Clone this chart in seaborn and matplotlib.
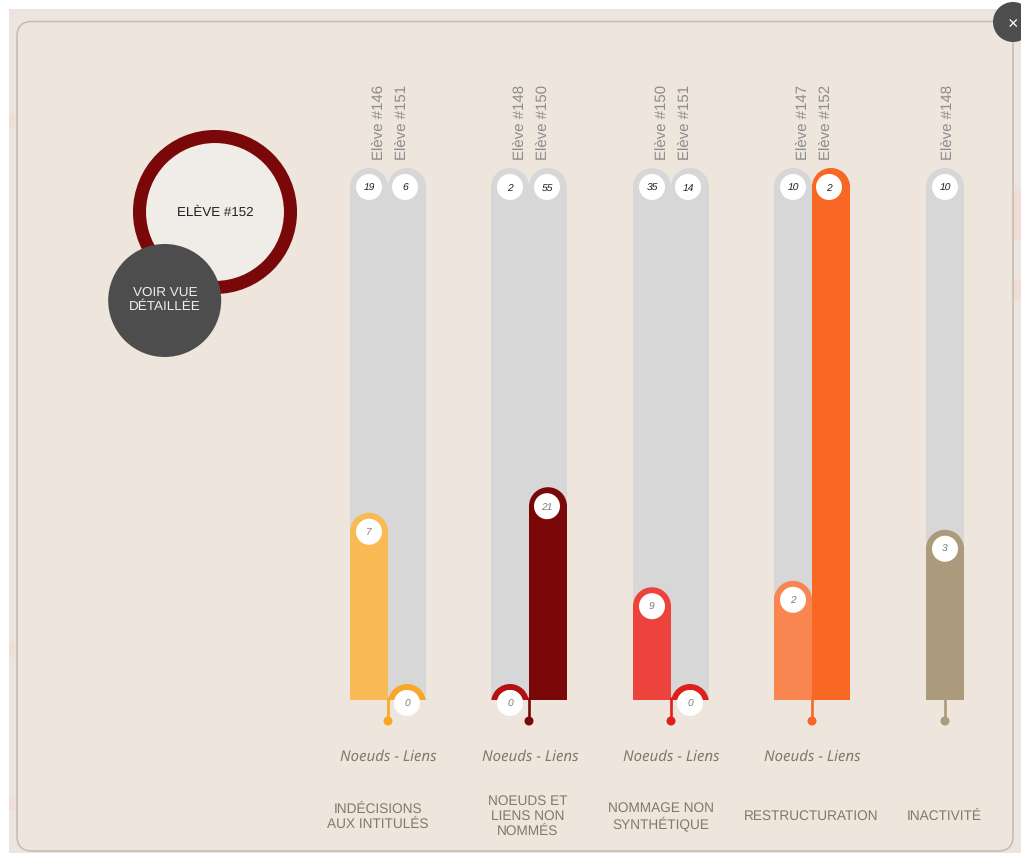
import numpy as np
import pandas as pd
import matplotlib
matplotlib.use('Agg')
import matplotlib.pyplot as plt
from matplotlib.patches import Circle, Ellipse, FancyBboxPatch, Rectangle, Wedge
import seaborn as sns

# values
students = ['Elève #146', 'Elève #151', 'Elève #148', 'Elève #150', 'Elève #150',
            'Elève #151', 'Elève #147', 'Elève #152', 'Elève #148']
totals = [19, 6, 2, 55, 35, 14, 10, 2, 10]
counts = [7, 0, 0, 21, 9, 0, 2, 2, 3]
fill_share = [0.352, 0, 0, 0.400, 0.212, 0, 0.224, 1.0, 0.320]
groups = ['INDÉCISIONS\nAUX INTITULÉS', 'NOEUDS ET\nLIENS NON\nNOMMÉS', 'NOMMAGE NON\nSYNTHÉTIQUE',
          'RESTRUCTURATION', 'INACTIVITÉ']

# layout in pixels
W, H = 1021, 854
BASE_Y, TOP_Y = 700, 168
BAR_W = 38
bar_x = [369, 407, 510, 548, 652, 690, 793, 831, 945]
bubble_x = [369, 405, 510, 547, 652, 688, 793, 829, 945]
label_x = [379, 402, 520, 543, 662, 685, 803, 826, 948]
stem_x = [388, 529, 671, 812, 945]
group_x = [378, 528, 661, 811, 944]
axis_x = [388.5, 530, 671, 812]

# colours
BG = '#EEE5DD'
GREY = '#D7D7D7'
fill_colors = ['#F9BA55', '#F9A825', '#B50F0F', '#7A0808', '#EC443C', '#DF1F1A', '#F98650', '#F96724', '#AB9A7C']
stem_colors = ['#F9A825', '#7A0808', '#DF1F1A', '#F96724', '#AB9A7C']
TXT = '#857868'

sns.set_theme(style='white')
plt.rcParams['font.family'] = ['Liberation Sans', 'DejaVu Sans']
plt.rcParams['text.hinting'] = 'no_hinting'

fig = plt.figure(figsize=(W / 100, H / 100), dpi=100, facecolor='white')


def pixel_axes(zorder):
    a = fig.add_axes([0, 0, 1, 1], zorder=zorder)
    a.set_xlim(0, W)
    a.set_ylim(H - 1, -1)
    a.set_axis_off()
    a.patch.set_alpha(0)
    return a


# page behind the panel
page = pixel_axes(0)
page.add_patch(Rectangle((9, 9), W - 9, H - 9, fc='#EDE4DF', ec='none'))
for y0, y1 in [(115, 128), (643, 657), (797, 810)]:
    page.add_patch(Rectangle((9, y0), 8, y1 - y0, fc='#EFDDD6', ec='none'))
for y0, y1 in [(190, 240), (280, 300)]:
    page.add_patch(Rectangle((1013, y0), 8, y1 - y0, fc='#EFDDD6', ec='none'))
page.add_patch(FancyBboxPatch((17, 21.5), 996, 829.5, boxstyle='round,pad=0,rounding_size=15',
                              fc=BG, ec='#C2BBB3', lw=1.1))

# bars, share of the column height on y
ax = fig.add_axes([0, (H - BASE_Y - 1) / H, 1, (BASE_Y - TOP_Y) / H], zorder=1)
ax.patch.set_alpha(0)
cap = (BAR_W / 2) / (BASE_Y - TOP_Y)


def round_tops(ax, start):
    for p in list(ax.patches)[start:]:
        h = p.get_height()
        if h <= 0:
            p.remove()
            continue
        p.set_height(h - cap)
        ax.add_patch(Ellipse((p.get_x() + p.get_width() / 2, h - cap), p.get_width(), 2 * cap,
                             fc=p.get_facecolor(), ec='none'))


df = pd.DataFrame({'x': bar_x, 'total': [1.0] * len(bar_x), 'share': fill_share,
                   'id': [str(i) for i in range(len(bar_x))]})
sns.barplot(data=df, x='x', y='total', native_scale=True, width=1, color=GREY,
            saturation=1, linewidth=0, ax=ax)
round_tops(ax, 0)
n = len(ax.patches)
sns.barplot(data=df, x='x', y='share', hue='id', palette=fill_colors, native_scale=True, width=1,
            dodge=False, saturation=1, linewidth=0, legend=False, ax=ax)
round_tops(ax, n)
ax.set_xlim(0, W)
ax.set_ylim(0, 1)
ax.set_axis_off()

# everything on top of the bars
top = pixel_axes(2)

# stems under each column group
for x, c in zip(stem_x, stem_colors):
    top.plot([x, x], [BASE_Y - 3, 720], color=c, lw=1.9, solid_capstyle='butt', zorder=1)
    top.add_patch(Circle((x, 721), 4.5, fc=c, ec='none', zorder=1))

for i, name in enumerate(students):
    top.text(label_x[i], 159, name, rotation=90, ha='center', va='bottom', fontsize=10.8, color='#8C8C8C')
    # total on the grey column
    top.add_patch(Circle((bubble_x[i], 187), 13, fc='white', ec='none', zorder=3))
    top.text(bubble_x[i], 187, str(totals[i]), ha='center', va='center', fontsize=7.4,
             style='italic', color='#222222', zorder=4)
    # count on the coloured column, a zero bar is only a small arch
    if fill_share[i] == 0:
        cx, cy = bar_x[i], BASE_Y + 3
        arch = Wedge((cx, cy), 19, 180, 360, width=6, fc=fill_colors[i], ec='none', zorder=2)
        top.add_patch(arch)
        arch.set_clip_path(Rectangle((cx - 20, BASE_Y - 20), 40, 20, transform=top.transData))
        by = cy
    else:
        by = BASE_Y - fill_share[i] * (BASE_Y - TOP_Y) + 19
    if fill_share[i] == 1.0:
        continue
    top.add_patch(Circle((bubble_x[i] if fill_share[i] else bar_x[i], by), 13, fc='white', ec='none', zorder=3))
    top.text(bubble_x[i] if fill_share[i] else bar_x[i], by, str(counts[i]), ha='center', va='center',
             fontsize=7.4, style='italic', color='#7D7D7D', zorder=4)

for x in axis_x:
    top.text(x, 756, 'Noeuds - Liens', ha='center', va='center', fontsize=10.8, style='italic',
             color=TXT, family=['Noto Sans', 'DejaVu Sans'])

for x, g in zip(group_x, groups):
    top.text(x, 815.5, g, ha='center', va='center', fontsize=9.8, color=TXT, linespacing=1.18)

# student badge
top.add_patch(Circle((215, 212), 75.5, fc='#F0ECE7', ec='#7A0808', lw=9.4))
top.text(215, 212, 'ELÈVE #152', ha='center', va='center', fontsize=9.6, color='#222222')
top.add_patch(Circle((164.7, 300.5), 56.5, fc='#4D4D4D', ec='none', zorder=3))
top.text(165, 298.5, 'VOIR VUE\nDÉTAILLÉE', ha='center', va='center', fontsize=9.7, color='#F0ECE7',
         linespacing=1.13, zorder=4)

# close button
top.add_patch(Circle((1013, 22), 20, fc='#4D4D4D', ec='none', zorder=3,
                     clip_path=Rectangle((0, 9), W, H, transform=top.transData)))
top.text(1013, 23, '×', ha='center', va='center', fontsize=13, color='white', zorder=4)

fig.savefig('out.png', dpi=100)
